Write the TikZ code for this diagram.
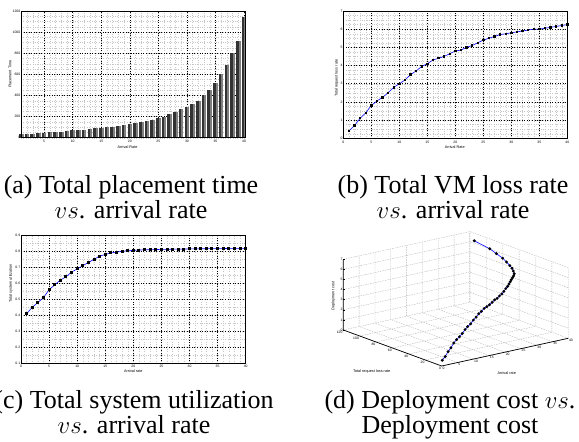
\documentclass[tikz,border=0pt]{standalone}
\usepackage{fontspec}
\setmainfont{Liberation Serif}
\setsansfont{Liberation Sans}

% placement time / loss rate / utilization, for arrival rate 1..40
\def\simdata{32/0.40/0.41, 35/0.70/0.45, 38/1.10/0.48, 42/1.40/0.51,
  46/1.80/0.56, 50/2.05/0.59, 54/2.25/0.62, 58/2.50/0.64, 63/2.80/0.67,
  70/3.00/0.69, 73/3.20/0.71, 77/3.50/0.73, 82/3.70/0.75, 88/3.95/0.77,
  95/4.10/0.78, 100/4.30/0.79, 105/4.40/0.795, 112/4.50/0.80,
  118/4.65/0.803, 127/4.80/0.806, 135/4.85/0.808, 145/5.00/0.809,
  155/5.10/0.810, 168/5.25/0.811, 184/5.40/0.812, 200/5.50/0.812,
  222/5.60/0.813, 245/5.70/0.814, 270/5.75/0.814, 295/5.80/0.815,
  320/5.85/0.815, 350/5.90/0.816, 400/5.95/0.816, 455/6.00/0.817,
  520/6.00/0.817, 600/6.05/0.817, 685/6.10/0.818, 800/6.15/0.818,
  920/6.20/0.818, 1147/6.25/0.818}

\tikzset{
  mingrid/.style={gray!45, dotted, line width=0.35pt},
  majgrid/.style={black, dotted, line width=0.55pt},
  axisbox/.style={black, line width=0.9pt},
  wallgrid/.style={gray!60, line width=0.35pt, dash pattern=on 1.5pt off 1pt},
  bardark/.style={fill=black!80},
  barlight/.style={fill=black!50},
  curve/.style={blue, line width=0.6pt},
  ticklab/.style={font=\fontsize{3.4}{4}\selectfont\sffamily, inner sep=0.6pt},
  axlab/.style={font=\fontsize{3.8}{4.5}\selectfont\sffamily, inner sep=0.5pt},
  capt/.style={font=\fontsize{26}{22.7}\selectfont, align=center, inner sep=0pt}
}

\begin{document}
\begin{tikzpicture}[x=1pt,y=1pt]
  \useasboundingbox (0,0) rectangle (579,442);

  % (a) placement time
  \begin{scope}[shift={(15.6,304.3)}, x=5.71pt, y=0.1056pt]
    \draw[mingrid, xstep=1, ystep=50] (0.95,0) grid (40.3,1200);
    \draw[majgrid, xstep=5, ystep=200] (0.95,0) grid (40.3,1200);
    \foreach \tp/\lr/\ut [count=\i] in \simdata {
      \fill[bardark] (\i-0.4,0) rectangle (\i+0.05,\tp);
      \fill[barlight] (\i+0.05,0) rectangle (\i+0.4,\tp);
    }
    \draw[axisbox] (0.95,0) rectangle (40.3,1200);
    \foreach \v in {0,200,...,1200}
      \node[ticklab, anchor=east] at (0.95,\v) {\v};
    \foreach \v in {5,10,...,40}
      \node[ticklab, anchor=north] at (\v,-18) {\v};
    \node[axlab] (xa) at (19.6,-85) {Arrival Rate};
    \node[axlab, rotate=90] (ya) at (-0.98,600) {Placement Time};
  \end{scope}

  % (b) loss rate
  \begin{scope}[shift={(343.3,303.7)}, x=5.6pt, y=18.19pt]
    \draw[mingrid, xstep=1, ystep=0.25] (0,0) grid (40,7);
    \draw[majgrid, xstep=5, ystep=1] (0,0) grid (40,7);
    \foreach \tp/\lr/\ut [count=\i] in \simdata
      \coordinate (b\i) at (\i,\lr);
    \draw[curve] (b1) \foreach \i in {2,...,40}{ -- (b\i)};
    \foreach \i in {1,...,40}
      \fill (b\i) ++(-1.2pt,-1.2pt) rectangle ++(2.4pt,2.4pt);
    \draw[axisbox] (0,0) rectangle (40,7);
    \foreach \v in {0,...,7}
      \node[ticklab, anchor=east] at (0,\v) {\v};
    \foreach \v in {0,5,...,40}
      \node[ticklab, anchor=north] at (\v,-0.1) {\v};
    \node[axlab] (xb) at (19.9,-0.47) {Arrival Rate};
    \node[axlab, rotate=90] (yb) at (-1.18,3.3) {Total request loss rate};
  \end{scope}

  % (c) utilization
  \begin{scope}[shift={(21,62.7)}, x=5.617pt, y=160pt]
    \draw[mingrid, xstep=1, ystep=0.05] (0,0.1) grid (40,0.9);
    \draw[majgrid, xstep=5, ystep=0.1] (0,0.1) grid (40,0.9);
    \foreach \tp/\lr/\ut [count=\i] in \simdata
      \coordinate (c\i) at (\i,\ut);
    \draw[curve] (c1) \foreach \i in {2,...,40}{ -- (c\i)};
    \foreach \i in {1,...,40}
      \fill (c\i) ++(-1.5pt,-1.5pt) rectangle ++(3pt,3pt);
    \draw[axisbox] (0,0.1) rectangle (40,0.9);
    \foreach \v in {0.1,0.2,0.3,0.4,0.5,0.6,0.7,0.8,0.9}
      \node[ticklab, anchor=east] at (0,\v) {\v};
    \foreach \v in {0,5,...,40}
      \node[ticklab, anchor=north] at (\v,0.092) {\v};
    \node[axlab] (xc) at (20,0.054) {Arrival rate};
    \node[axlab, rotate=90] (yc) at (-1.78,0.6) {Total system utilization};
  \end{scope}

  % (d) 3-d view: arrival rate, loss rate, cost
  \begin{scope}[shift={(441.7,76)}, x={(3.165pt,0.6925pt)},
      y={(-0.82pt,0.3pt)}, z={(0pt,10.1pt)}]
    \foreach \a in {0,5,...,40} {
      \draw[wallgrid] (\a,0,0) -- (\a,120,0) -- (\a,120,7);
    }
    \foreach \l in {0,20,...,120} {
      \draw[wallgrid] (0,\l,0) -- (40,\l,0) -- (40,\l,7);
    }
    \foreach \h in {1,...,7} {
      \draw[wallgrid] (0,120,\h) -- (40,120,\h) -- (40,0,\h);
    }
    \draw[black, line width=0.7pt] (40,0,0) -- (0,0,0) -- (0,120,0) -- (0,120,7);
    \foreach \a in {0,5,...,40}
      \node[ticklab, anchor=north west] at (\a,0,0) {\a};
    \foreach \l in {0,20,...,120}
      \node[ticklab, anchor=north east] at (0,\l,0) {\l};
    \foreach \h in {0,...,7} {
      \draw[black, line width=0.4pt] (0,120,\h) -- +(1.5pt,0);
      \node[ticklab, anchor=east] at (0,120,\h) {\h};
    }
    \foreach \tp/\lr/\ut [count=\i] in \simdata
      \coordinate (d\i) at ({\i},{\tp/10},{\lr});
    \draw[curve] (d1) \foreach \i in {2,...,40}{ -- (d\i)};
    \foreach \i in {1,...,40}
      \fill (d\i) circle (1.6pt);
  \end{scope}
  \node[axlab, rotate=90] (zd) at (333.3,146) {Deployment cost};
  \node[axlab] (yd) at (371.7,70) {Total request loss rate};
  \node[axlab] (xd) at (506.7,69.3) {Arrival rate};

  % captions
  \node[capt] (capa) at (131,245) {(a) Total placement time\\ $vs$. arrival rate};
  \node[capt] (capb) at (453,245) {(b) Total VM loss rate\\ $vs$. arrival rate};
  \node[capt] (capc) at (134,30) {(c) Total system utilization\\ $vs$. arrival rate};
  \node[capt] (capd) at (450,27.5) {(d) Deployment cost $vs$.\\ Deployment cost};
\end{tikzpicture}
\end{document}
